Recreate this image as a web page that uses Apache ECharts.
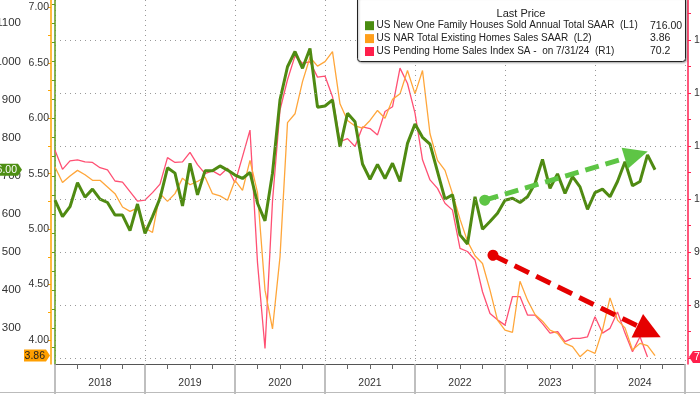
<!DOCTYPE html>
<html>
<head>
<meta charset="utf-8">
<script src="https://cdn.jsdelivr.net/npm/echarts@6/dist/echarts.min.js"></script>
<style>html,body{margin:0;padding:0;background:#fff}#c{width:700px;height:394px}</style>
</head>
<body>
<div id="c"></div>
<script>
// x index 0 = end of Dec 2017, 1 = end of Jan 2018, ... (monthly, month-end)
const years = ['2018', '2019', '2020', '2021', '2022', '2023', '2024'];

// US New One Family Houses Sold, SAAR (thousands) Dec-2017 .. Aug-2024 (L1)
const newHomeSales = [
  636, 593, 619, 682, 644, 665, 639, 630, 597, 597, 556, 626, 549,
  593, 641, 721, 707, 621, 733, 650, 713, 713, 726, 715, 702,
  693, 709, 628, 582, 707, 899, 986, 1026, 982, 1034, 880, 883,
  899, 776, 864, 842, 731, 691, 730, 693, 733, 685, 785, 836,
  801, 783, 711, 639, 650, 545, 521, 645, 560, 580, 602, 636,
  641, 630, 645, 680, 743, 667, 705, 654, 698, 671, 612, 656,
  665, 645, 685, 737, 674, 685, 755, 716
];

// US NAR Total Existing Home Sales, SAAR (millions) Dec-2017 .. Aug-2024 (L2)
const existingSales = [
  5.56, 5.42, 5.48, 5.53, 5.49, 5.44, 5.44, 5.38, 5.32, 5.20, 5.16, 5.19, 5.01,
  4.97, 5.32, 5.25, 5.32, 5.46, 5.40, 5.43, 5.47, 5.32, 5.30, 5.26, 5.44,
  5.35, 5.62, 5.33, 4.45, 4.10, 4.75, 5.96, 6.04, 6.33, 6.55, 6.47, 6.51,
  6.60, 6.13, 5.98, 5.93, 5.91, 5.98, 6.07, 6.00, 6.17, 6.22, 6.43, 6.22,
  6.43, 5.86, 5.62, 5.53, 5.32, 5.09, 4.89, 4.76, 4.69, 4.45, 4.18, 4.09,
  4.07, 4.53, 4.36, 4.23, 4.17, 4.09, 4.06, 3.97, 3.94, 3.85, 3.91, 3.88,
  4.09, 4.38, 4.18, 4.11, 3.91, 3.97, 3.95, 3.86
];

// US Pending Home Sales Index SA, Dec-2017 .. Jul-2024 (R1)
const pendingIndex = [
  109.2, 105.6, 107.2, 107.4, 107.0, 106.9, 105.9, 105.5, 103.4, 103.2, 101.4, 99.6, 99.8,
  101.2, 102.8, 107.8, 106.9, 107.0, 108.8, 106.5, 104.8, 105.3, 104.5, 105.8, 103.1,
  108.0, 113.0, 88.0, 71.8, 99.6, 116.8, 122.5, 127.0, 125.6, 125.9, 123.0, 123.2,
  119.3, 110.8, 111.4, 109.9, 113.6, 113.3, 112.1, 116.5, 117.4, 124.7, 121.8, 116.2,
  107.4, 103.6, 102.0, 99.2, 97.9, 90.7, 90.1, 88.5, 82.5, 78.4, 77.2, 76.2,
  81.6, 81.6, 78.1, 78.1, 76.5, 74.7, 75.0, 73.1, 73.7, 73.7, 74.0, 77.8,
  74.7, 75.6, 78.7, 74.7, 71.2, 74.0, 70.2
];

const l1Labels = [300, 400, 500, 600, 700, 800, 900, 1000, 1100];
const l1Ticks = [250, 300, 350, 400, 450, 500, 550, 600, 650, 700, 750, 800, 850, 900, 950, 1000, 1050, 1100, 1150];
const l2Labels = [4.0, 4.5, 5.0, 5.5, 6.0, 6.5, 7.0];
const l2Ticks = [4.0, 4.25, 4.5, 4.75, 5.0, 5.25, 5.5, 5.75, 6.0, 6.25, 6.5, 6.75, 7.0];
const r1Labels = [70, 80, 90, 100, 110, 120, 130];
const r1Ticks = [70, 75, 80, 85, 90, 95, 100, 105, 110, 115, 120, 125, 130, 135];

const seriesNames = [
  'US New One Family Houses Sold Annual Total SAAR  (L1)',
  'US NAR Total Existing Homes Sales SAAR  (L2)',
  'US Pending Home Sales Index SA -  on 7/31/24  (R1)'
];
const legendTitle = 'Last Price';

// trend arrows (annotation), in [month index, axis value]
const greenTrend = [[57.3, 636], [77.5, 755]];
const redTrend = [[58.4, 89.4], [79.2, 75.0]];

const FONT = 'Liberation Sans';
const C_GREEN = '#4f8a12', C_ORANGE = '#ffa63a', C_PINK = '#ff5073';
const pairs = arr => arr.map((v, i) => [i, v]);

const chart = echarts.init(document.getElementById('c'), null, {renderer: 'canvas'});

const labelStyle = {color: '#333', fontSize: 10.5, fontFamily: FONT};

const option = {
  animation: false,
  backgroundColor: '#fff',
  grid: {left: 55, right: 15, top: 0, bottom: 30, containLabel: false, outerBoundsMode: 'none'},
  xAxis: [
    {
      type: 'value', min: 0, max: 84, interval: 12,
      axisLine: {show: true, lineStyle: {color: '#555', width: 1}},
      axisTick: {show: true, length: 30, lineStyle: {color: '#aaa', width: 1.5}},
      minorTick: {show: true, splitNumber: 4, length: 5, lineStyle: {color: '#666', width: 1}},
      axisLabel: {show: false},
      splitLine: {show: true, lineStyle: {color: '#999', type: [1, 4], width: 1}}
    },
    {
      type: 'category', position: 'bottom', data: years, boundaryGap: true,
      axisLine: {show: false}, axisTick: {show: false}, splitLine: {show: false},
      axisLabel: Object.assign({margin: 14, interval: 0}, labelStyle)
    }
  ],
  yAxis: [
    {
      type: 'value', position: 'left', offset: 32, min: 206.4, max: 1161.1,
      axisLine: {show: true, lineStyle: {color: '#5c9b1c', width: 1.5}},
      axisTick: {show: true, length: 3, customValues: l1Ticks, lineStyle: {color: '#5c9b1c'}},
      axisLabel: Object.assign({customValues: l1Labels, margin: 2, formatter: v => String(Math.round(v))}, labelStyle, {fontSize: 11.5}),
      splitLine: {show: false}
    },
    {
      type: 'value', position: 'left', offset: 4, min: 3.784, max: 7.066,
      axisLine: {show: true, lineStyle: {color: '#ffa500', width: 1.5}},
      axisTick: {show: true, length: 3, customValues: l2Ticks, lineStyle: {color: '#ffa500'}},
      axisLabel: Object.assign({customValues: l2Labels, margin: 2, formatter: v => Number(v).toFixed(2)}, labelStyle),
      splitLine: {show: false}
    },
    {
      type: 'value', position: 'right', offset: 3, min: 68.87, max: 137.55,
      axisLine: {show: true, lineStyle: {color: '#ff2050', width: 1.5}},
      axisTick: {show: true, length: 3, customValues: r1Ticks, lineStyle: {color: '#ff2050'}},
      axisLabel: Object.assign({customValues: r1Labels, margin: 6, formatter: v => String(Math.round(v))}, labelStyle),
      splitLine: {show: false}
    }
  ],
  series: [
    {
      name: seriesNames[2], type: 'line', xAxisIndex: 0, yAxisIndex: 2,
      data: pairs(pendingIndex), showSymbol: false, symbol: 'none',
      lineStyle: {color: C_PINK, width: 1.3}, itemStyle: {color: C_PINK},
      markLine: {
        silent: true, animation: false, symbol: ['none', 'none'], label: {show: false},
        data: r1Labels.map(v => ({yAxis: v, lineStyle: {color: '#999', type: [1, 4], width: 1}})).concat([
          [
            {coord: redTrend[0], symbol: 'circle', symbolSize: 11, lineStyle: {color: '#e50000', width: 5, type: [16, 8]}},
            {coord: redTrend[1], symbol: 'triangle', symbolSize: [26, 26], lineStyle: {color: '#e50000', width: 5, type: [16, 8]}}
          ]
        ])
      }
    },
    {
      name: seriesNames[1], type: 'line', xAxisIndex: 0, yAxisIndex: 1,
      data: pairs(existingSales), showSymbol: false, symbol: 'none',
      lineStyle: {color: C_ORANGE, width: 1.3}, itemStyle: {color: C_ORANGE}
    },
    {
      name: seriesNames[0], type: 'line', xAxisIndex: 0, yAxisIndex: 0,
      data: pairs(newHomeSales), showSymbol: false, symbol: 'none',
      lineStyle: {color: C_GREEN, width: 3}, itemStyle: {color: C_GREEN},
      markLine: {
        silent: true, animation: false, symbol: ['none', 'none'], label: {show: false},
        data: [
          [
            {coord: greenTrend[0], symbol: 'circle', symbolSize: 11, lineStyle: {color: '#5ec545', width: 5, type: [14, 7]}},
            {coord: greenTrend[1], symbol: 'triangle', symbolSize: [22, 24], lineStyle: {color: '#5ec545', width: 5, type: [14, 7]}}
          ]
        ]
      }
    }
  ]
};
chart.setOption(option);

// ---- legend box and last-value badges ----
const lastG = newHomeSales[newHomeSales.length - 1];
const lastO = existingSales[existingSales.length - 1];
const lastP = pendingIndex[pendingIndex.length - 1];
const lastTexts = [lastG.toFixed(2), lastO.toFixed(2), lastP.toFixed(1)];
const legendColors = ['#4a8c10', '#ff9f1a', '#ff1f4b'];

const els = [];
els.push({
  type: 'rect', z: 100,
  shape: {x: 357.5, y: -3, width: 328, height: 64.5, r: 3},
  style: {fill: '#fff', stroke: '#222', lineWidth: 1, shadowBlur: 2, shadowColor: 'rgba(0,0,0,0.3)', shadowOffsetX: 1, shadowOffsetY: 1}
});
els.push({
  type: 'text', z: 101, x: 521, y: 13.5,
  style: {text: legendTitle, fill: '#222', font: '11px ' + FONT, align: 'center', verticalAlign: 'middle'}
});
const rowY = [25.7, 38.6, 51.5];
for (let k = 0; k < 3; k++) {
  els.push({type: 'rect', z: 101, shape: {x: 365, y: rowY[k] - 4.5, width: 9, height: 9}, style: {fill: legendColors[k]}});
  els.push({type: 'text', z: 101, x: 376.5, y: rowY[k],
    style: {text: seriesNames[k], fill: '#222', font: '10px ' + FONT, align: 'left', verticalAlign: 'middle'}});
  els.push({type: 'text', z: 101, x: 650, y: rowY[k],
    style: {text: lastTexts[k], fill: '#222', font: '10.5px ' + FONT, align: 'left', verticalAlign: 'middle'}});
}

function badge(yPix, tipX, side, w, text, bg, fg) {
  const half = 6, nose = 4;
  let pts, tx, align;
  if (side === 'left') {
    const b1 = tipX - nose, b0 = b1 - w;
    pts = [[b0, yPix - half], [b1, yPix - half], [tipX, yPix], [b1, yPix + half], [b0, yPix + half]];
    tx = b1 - 1; align = 'right';
  } else {
    const b0 = tipX + nose, b1 = b0 + w;
    pts = [[tipX, yPix], [b0, yPix - half], [b1, yPix - half], [b1, yPix + half], [b0, yPix + half]];
    tx = b0 + 1; align = 'left';
  }
  els.push({type: 'polygon', z: 110, shape: {points: pts}, style: {fill: bg}});
  els.push({type: 'text', z: 111, x: tx, y: yPix + 0.5,
    style: {text: text, fill: fg, font: '10.5px ' + FONT, align: align, verticalAlign: 'middle'}});
}
const yG = chart.convertToPixel({yAxisIndex: 0}, lastG);
const yO = chart.convertToPixel({yAxisIndex: 1}, lastO);
const yP = chart.convertToPixel({yAxisIndex: 2}, lastP);
badge(yG, 22, 'left', 40, lastTexts[0], '#4e8f14', '#fff');
badge(yO, 50, 'left', 22, lastTexts[1], '#ff9f00', '#222');
badge(yP, 689, 'right', 40, lastTexts[2], '#ff1f4b', '#fff');

els.push({type: 'line', z: 50, shape: {x1: 0, y1: 392.5, x2: 700, y2: 392.5}, style: {stroke: '#bbb', lineWidth: 1}});

chart.setOption({graphic: {elements: els}});
</script>
</body>
</html>
